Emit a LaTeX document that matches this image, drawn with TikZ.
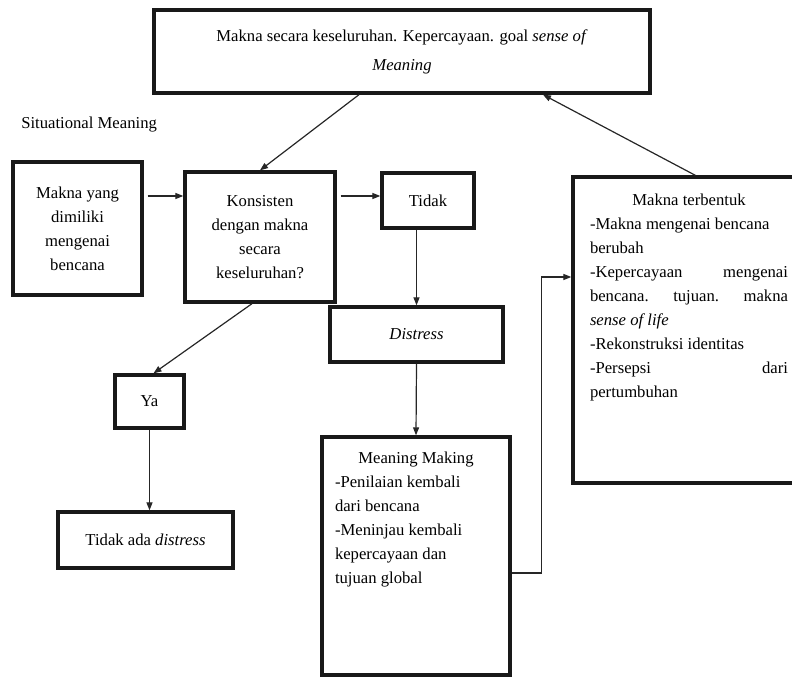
\documentclass[tikz,border=0pt]{standalone}
\usepackage{fontspec}
\setmainfont{Liberation Serif}
\usetikzlibrary{arrows.meta,positioning,calc}
\newdimen\px \px=0.75pt

\begin{document}
\begin{tikzpicture}[x=1\px, y=-1\px,
    box/.style={rectangle, draw=black!90, line width=2.5pt,
                align=center, inner sep=2pt,
                font=\fontsize{12.5}{18}\selectfont},
    arr/.style={-{Triangle[length=6pt,width=4.5pt]}, line width=0.9pt, black!85},
    lbl/.style={font=\fontsize{12.5}{14}\selectfont, anchor=west, inner sep=0pt},
  ]
  \useasboundingbox (0,0) rectangle (792,677);
  \clip (0,0) rectangle (792,677);

  % global meaning
  \node[box, minimum width=496\px, minimum height=83\px,
        font=\fontsize{12.5}{21.75}\selectfont] (whole) at (402,51.5)
       {Makna secara keseluruhan. Kepercayaan. goal \textit{sense of}\\\textit{Meaning}};
  \node[lbl] (situ) at (21,125) {Situational Meaning};

  % situational meaning row
  \node[box, minimum width=129\px, minimum height=133\px] (punya) at (77.5,228.5)
       {Makna yang\\dimiliki\\mengenai\\bencana};
  \node[box, minimum width=150\px, minimum height=130\px] (kons) at (260,237)
       {Konsisten\\dengan makna\\secara\\keseluruhan?};
  \node[box, minimum width=92\px, minimum height=55\px] (tidak) at (428,200.5) {Tidak};
  \node[box, minimum width=173\px, minimum height=55\px] (distress) at (416.5,334.5)
       {\textit{Distress}};

  \node[box, minimum width=69\px, minimum height=53\px] (ya) at (149.5,401.5) {Ya};
  \node[box, minimum width=175\px, minimum height=56\px] (aman) at (145.5,540)
       {Tidak ada \textit{distress}};

  \node[box, minimum width=188\px, minimum height=238\px] (making) at (416,556)
       {\parbox[c][208\px][t]{162\px}{\centering Meaning Making\par\raggedright
        -Penilaian kembali\\dari bencana\\-Meninjau kembali\\kepercayaan dan\\tujuan global}};

  \node[box, minimum width=232\px, minimum height=306\px] (tbt) at (689,330)
       {\parbox[c][272\px][t]{198\px}{\centering Makna terbentuk\par\raggedright
        -Makna mengenai bencana\\
        berubah\\
        -Kepercayaan\hfill mengenai\\
        bencana.\hfill tujuan.\hfill makna\\
        \textit{sense of life}\\
        -Rekonstruksi identitas\\
        -Persepsi\hfill dari\\
        pertumbuhan}};

  % connectors
  \coordinate (row) at (0,196);
  \draw[arr] ([xshift=-43\px]whole.south) -- (kons.north);
  \draw[arr] ([xshift=124\px]tbt.north west) -- ([xshift=141\px]whole.south);
  \draw[arr, shorten <=3pt] (punya.east |- row) -- (kons.west |- row);
  \draw[arr, shorten <=3pt] (kons.east |- row) -- (tidak.west |- row);
  \draw[arr] (tidak.south -| distress.north) -- (distress.north);
  \draw[arr] (distress.south) -- (making.north);
  \draw[arr] ([xshift=-8\px]kons.south) -- ([xshift=4\px]ya.north);
  \draw[arr] (ya.south) -- (ya.south |- aman.north);
  \draw[arr] ([yshift=-17\px]making.east) -- ++(30,0) |- ([yshift=53\px]tbt.west);
\end{tikzpicture}
\end{document}
